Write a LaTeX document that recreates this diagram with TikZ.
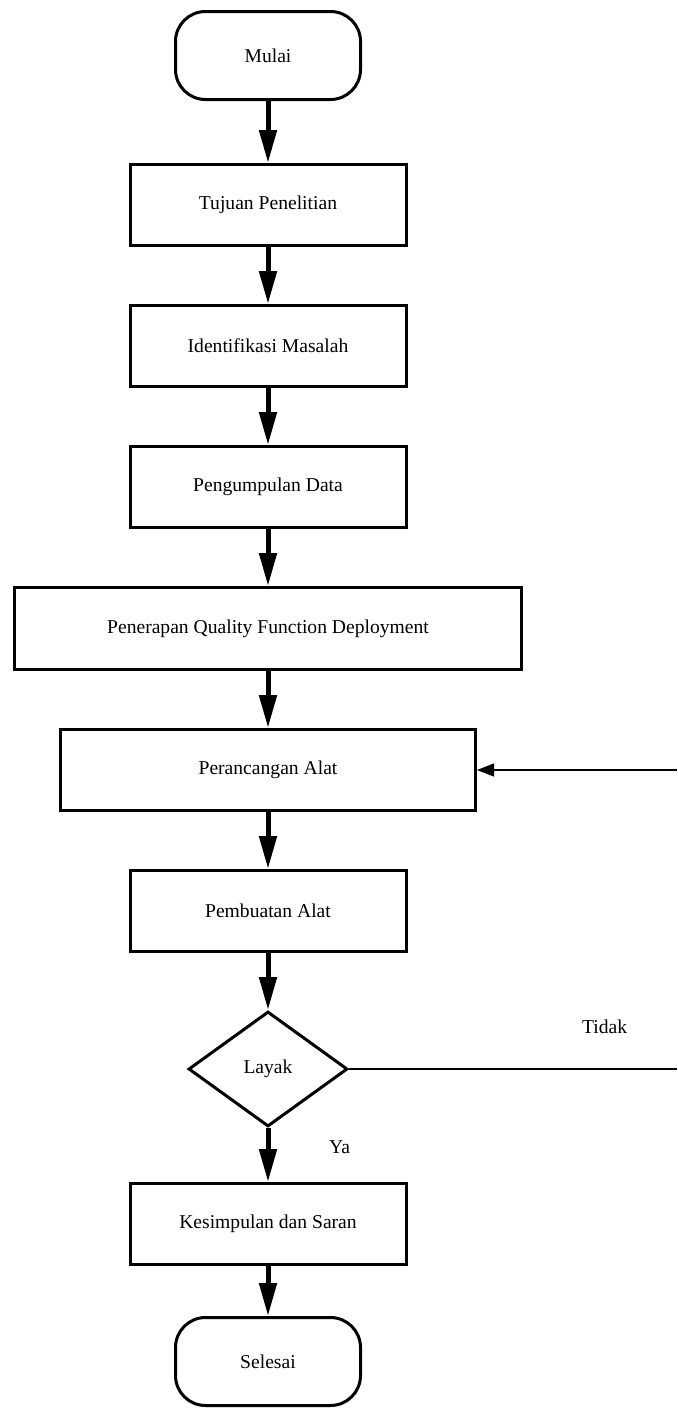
\documentclass[tikz,border=0pt]{standalone}
\usepackage{fontspec}
\setmainfont{Liberation Serif}
\usetikzlibrary{positioning,shapes.geometric,arrows.meta}

\begin{document}
\begin{tikzpicture}[x=0.5pt, y=-0.5pt, node distance={28.5pt}, font=\fontsize{9.8}{12}\selectfont,
		main/.style = {draw, line width=1.5pt, minimum width=138pt, minimum height=40.5pt, inner sep=2pt},
		term/.style = {draw, line width=1.5pt, rounded corners=15pt, minimum width=92.5pt, minimum height=44pt},
		cond/.style = {draw, diamond, line width=1.5pt, minimum width=79.5pt, minimum height=57.5pt, inner sep=0pt},
		arr/.style = {line width=2.5pt, -{Triangle[length=16.5pt, width=8.5pt]}},
		back/.style = {line width=0.65pt}]
			\useasboundingbox (0,0) rectangle (677,1409);
			\node[term] (mulai) at (268,55.5) {Mulai};
			\node[main] (tujuan) [below=31pt of mulai] {Tujuan Penelitian};
			\node[main] (ident) [below=of tujuan] {Identifikasi Masalah};
			\node[main] (kumpul) [below=of ident] {Pengumpulan Data};
			\node[main, minimum width=253.5pt, minimum height=41pt] (qfd) [below=of kumpul] {Penerapan Quality Function Deployment};
			\node[main, minimum width=207.5pt] (rancang) [below=of qfd] {Perancangan Alat};
			\node[main] (buat) [below=of rancang] {Pembuatan Alat};
			\node[cond] (layak) [below=of buat] {Layak};
			\node[main] (simpul) [below=27pt of layak] {Kesimpulan dan Saran};
			\node[term] (selesai) [below=25pt of simpul] {Selesai};
			\node (tidak) [above right=14pt and 113pt of layak.east] {Tidak};
			\node (ya) [below right=3pt and 27pt of layak.south] {Ya};
			\coordinate (tepi) at (677,0);
			\coordinate (kanan1) at (rancang.east -| tepi);
			\coordinate (kanan2) at (layak.east -| tepi);
			\draw[arr] (mulai) -- (tujuan);
			\draw[arr] (tujuan) -- (ident);
			\draw[arr] (ident) -- (kumpul);
			\draw[arr] (kumpul) -- (qfd);
			\draw[arr] (qfd) -- (rancang);
			\draw[arr] (rancang) -- (buat);
			\draw[arr] (buat) -- (layak);
			\draw[arr] (layak) -- (simpul);
			\draw[arr] (simpul) -- (selesai);
			\draw[back] (layak.east) -- (kanan2);
			\draw[back, -{Triangle[length=8.5pt, width=6.5pt]}] (kanan1) -- (rancang.east);
		\end{tikzpicture}
\end{document}
